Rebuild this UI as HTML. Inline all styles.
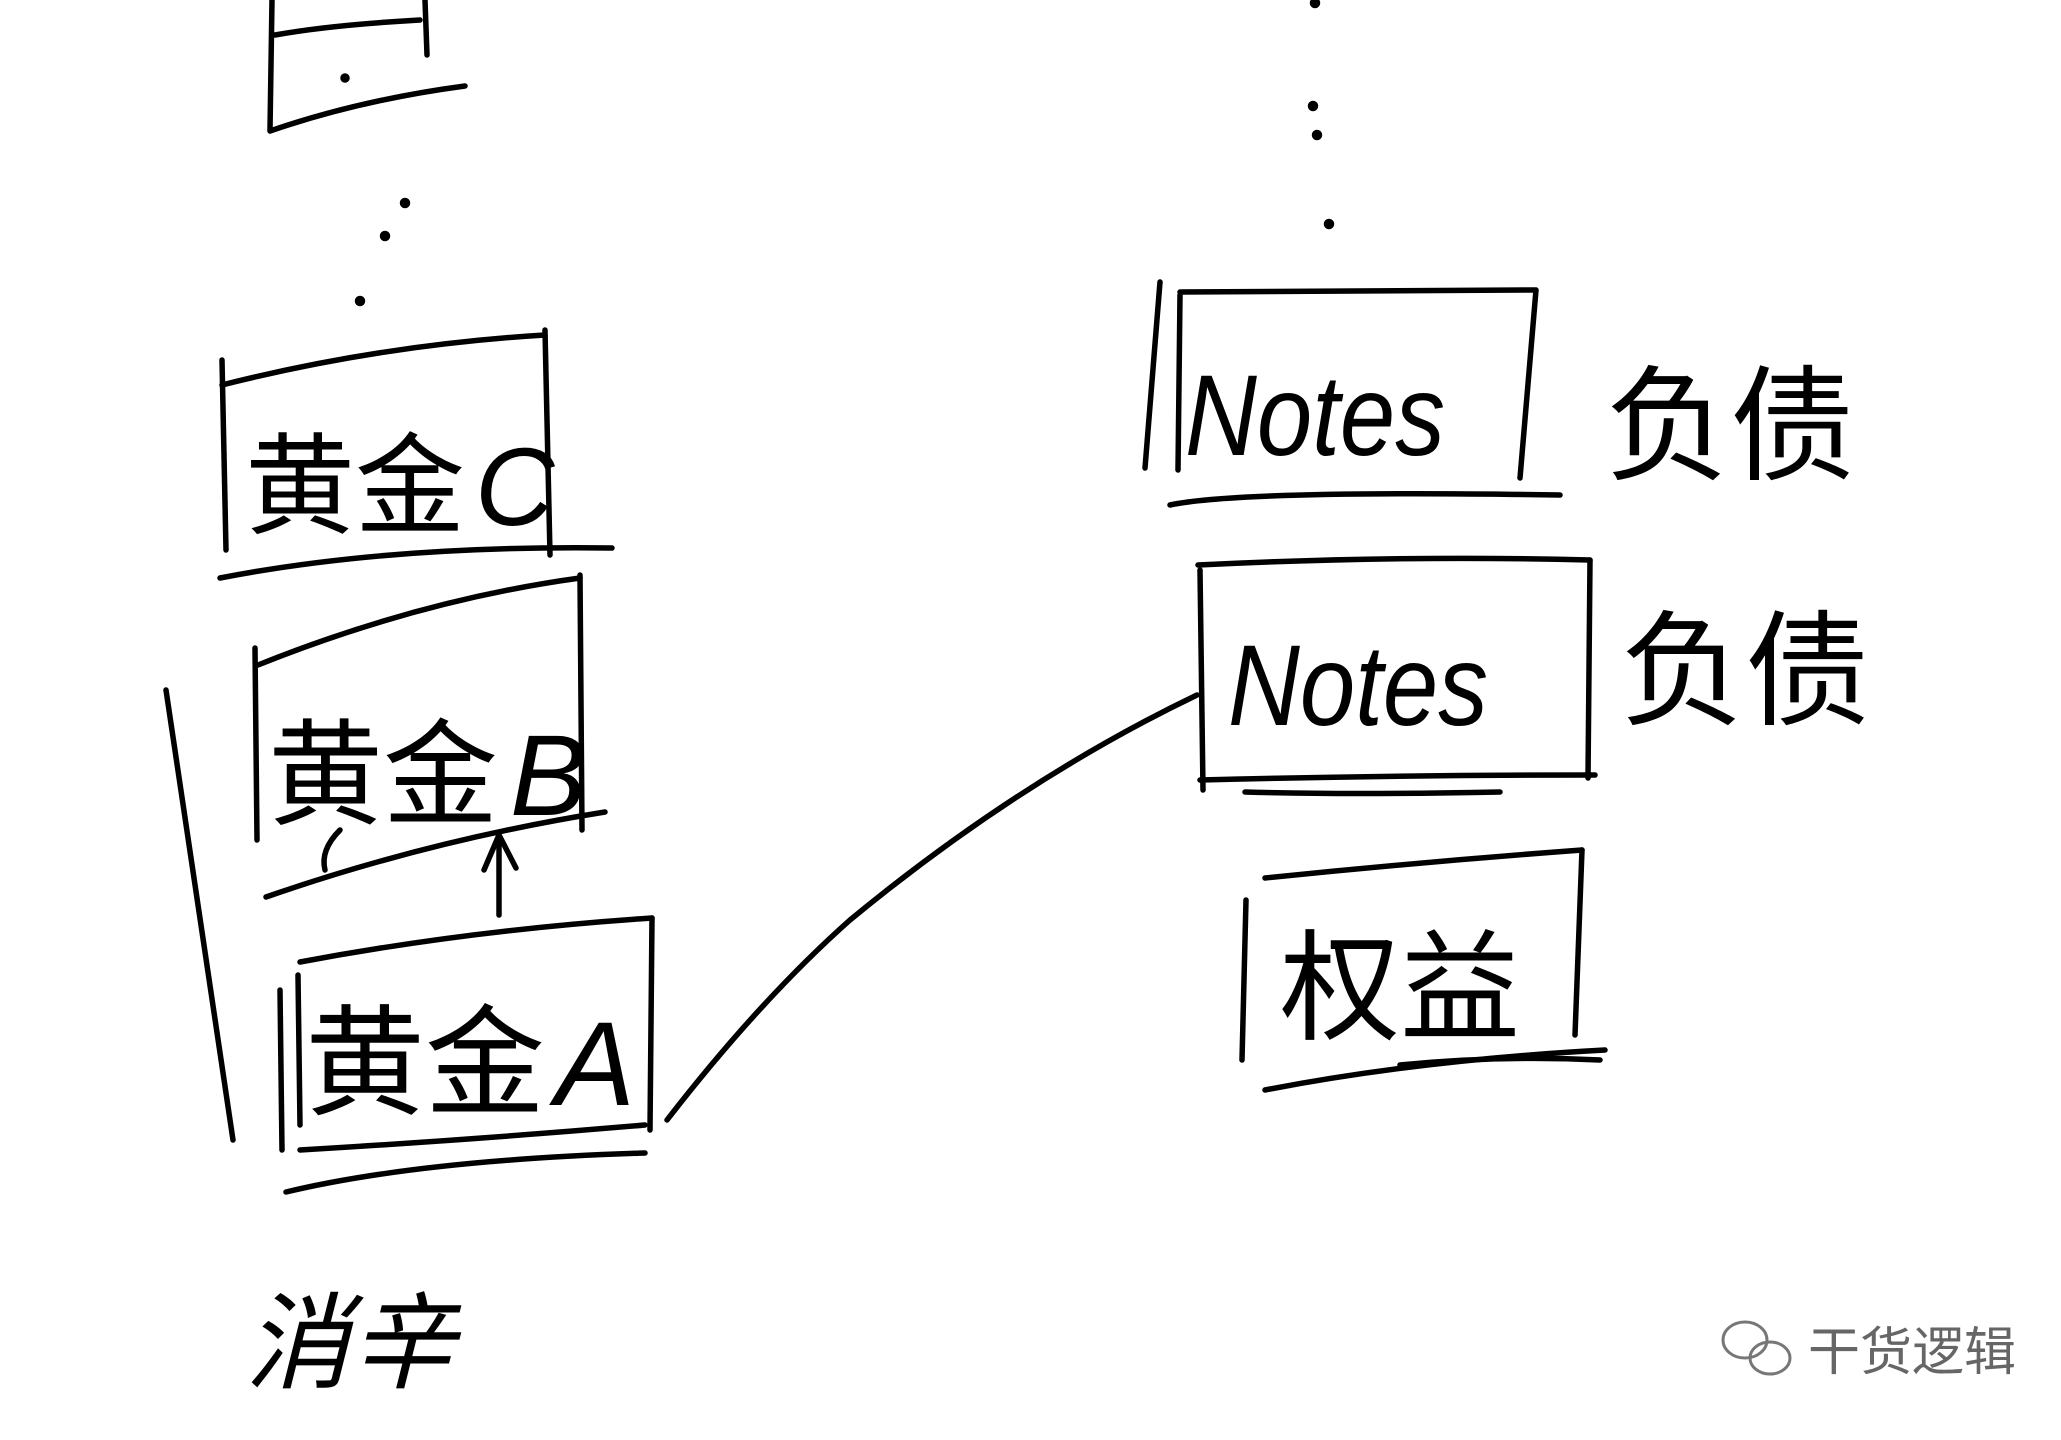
<!DOCTYPE html>
<html><head><meta charset="utf-8"><style>
html,body{margin:0;padding:0;background:#fff;}
svg{display:block;}
text{font-family:"Liberation Sans","Noto Sans CJK SC",sans-serif;fill:#000;}
</style></head><body>
<svg width="2061" height="1440" viewBox="0 0 2061 1440" xmlns="http://www.w3.org/2000/svg">
<g fill="none" stroke="#000" stroke-width="5.5" stroke-linecap="round" stroke-linejoin="round">
<path d="M272 0 L270 130"/>
<path d="M270 131 Q360 100 465 86"/>
<path d="M425 0 L427 55"/>
<path d="M275 35 Q330 25 420 20"/>
<circle cx="345" cy="78" r="2" fill="#000"/>
<circle cx="405" cy="203" r="2.5" fill="#000"/>
<circle cx="385" cy="236" r="2.5" fill="#000"/>
<circle cx="360" cy="301" r="2.5" fill="#000"/>
<path d="M222 360 L226 550"/>
<path d="M222 385 Q380 345 545 335"/>
<path d="M545 330 L550 555"/>
<path d="M220 578 Q390 545 612 548"/>
<path d="M255 648 L257 840"/>
<path d="M258 665 Q420 600 580 578"/>
<path d="M580 575 L582 830"/>
<path d="M266 897 Q430 840 605 812"/>
<path d="M325 870 Q320 850 340 830"/>
<path d="M499 915 L499 835"/>
<path d="M484 870 L499 835 L516 868"/>
<path d="M300 962 Q470 930 652 918"/>
<path d="M652 918 L650 1130"/>
<path d="M298 975 L300 1125"/>
<path d="M280 990 L282 1150"/>
<path d="M300 1150 Q470 1140 645 1125"/>
<path d="M286 1192 Q420 1160 645 1153"/>
<path d="M166 690 L233 1140"/>
<path d="M667 1120 Q760 1000 850 920 Q1020 780 1197 695"/>
<circle cx="1315" cy="3" r="2.5" fill="#000"/>
<circle cx="1313" cy="106" r="2.5" fill="#000"/>
<circle cx="1317" cy="135" r="2.5" fill="#000"/>
<circle cx="1329" cy="224" r="2.5" fill="#000"/>
<path d="M1160 282 L1145 468"/>
<path d="M1180 292 L1535 290"/>
<path d="M1536 290 L1520 478"/>
<path d="M1180 295 L1178 470"/>
<path d="M1170 505 Q1240 490 1560 495"/>
<path d="M1198 565 Q1400 555 1590 560"/>
<path d="M1590 560 L1588 778"/>
<path d="M1200 570 L1203 790"/>
<path d="M1200 780 Q1400 775 1595 775"/>
<path d="M1245 792 Q1350 795 1500 792"/>
<path d="M1265 878 Q1420 862 1582 850"/>
<path d="M1582 850 L1575 1035"/>
<path d="M1246 900 L1242 1060"/>
<path d="M1265 1090 Q1420 1060 1605 1050"/>
<path d="M1400 1065 Q1500 1055 1600 1060"/>
</g>
<text x="245" y="525" font-size="110">黄金</text>
<text x="475" y="525" font-size="110" font-style="italic" font-weight="300">C</text>
<text x="268" y="815" font-size="115">黄金</text>
<text x="510" y="815" font-size="115" font-style="italic">B</text>
<text x="305" y="1105" font-size="120">黄金</text>
<text x="555" y="1105" font-size="120" font-style="italic">A</text>
<text x="245" y="1380" font-size="105" font-style="italic">消辛</text>
<text x="1185" y="455" font-size="115" font-style="italic" textLength="260" lengthAdjust="spacingAndGlyphs">Notes</text>
<text x="1228" y="725" font-size="115" font-style="italic" textLength="260" lengthAdjust="spacingAndGlyphs">Notes</text>
<text x="1280" y="1030" font-size="120">权益</text>
<text x="1605" y="470" font-size="125">负债</text>
<text x="1620" y="715" font-size="125">负债</text>
<g stroke="#777" stroke-width="3" fill="none">
<ellipse cx="1745" cy="1340" rx="22" ry="18"/>
<ellipse cx="1770" cy="1358" rx="20" ry="16"/>
</g>
<text x="1808" y="1370" font-size="52" style="fill:#666">干货逻辑</text>
</svg>
</body></html>
